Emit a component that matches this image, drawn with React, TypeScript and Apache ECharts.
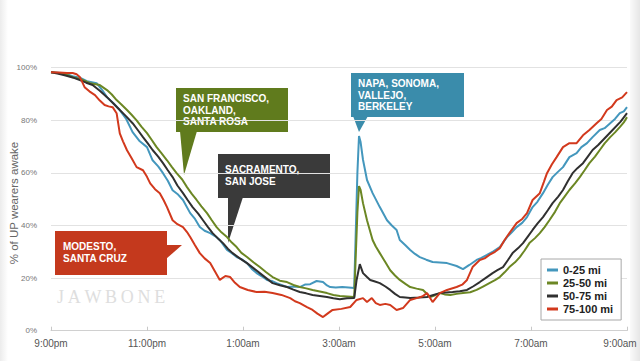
import React, { useEffect, useRef } from "react";
import * as echarts from "echarts";

const xTickLabels = ["9:00pm", "11:00pm", "1:00am", "3:00am", "5:00am", "7:00am", "9:00am"];
const seriesNames = ["0-25 mi", "25-50 mi", "50-75 mi", "75-100 mi"];
const seriesColors = ["#4497bd", "#6c8724", "#303030", "#d2391d"];
const yAxisTitle = "% of UP wearers awake";

// [minutes after 9:00pm, % awake]
const mi0to25: [number, number][] = [
  [0, 98.3], [11, 98], [20, 97.5], [27, 96.8], [36, 96.2], [45, 94.9], [57, 94.1], [64, 91.5], [70, 88.8], [78, 86.5],
  [86, 83.9], [94, 80.5], [102, 75.5], [111, 72], [120, 69.8], [127, 64.8], [134, 62.5], [140, 59.9], [146, 57], [152, 53.4],
  [158, 52], [165, 49.7], [174, 44.7], [180, 42.5], [186, 39.4], [192, 38], [199, 37.1], [205, 36], [211, 34.5], [220, 30.7],
  [226, 29.5], [232, 28], [238, 27.2], [245, 25.7], [251, 23.5], [257, 21.9], [264, 20.6], [270, 19.3], [276, 18.9], [282, 18.1],
  [288, 17.4], [295, 16.6], [303, 16.8], [311, 16.6], [318, 17.6], [324, 17.7], [332, 18.9], [340, 18.5], [345, 17.2], [349, 16.6],
  [356, 16.4], [364, 16.6], [372, 16.4], [379, 16.2], [383, 60], [385, 74], [387, 71.7], [390, 65], [395, 57.3], [402, 52.3],
  [411, 47], [420, 42], [426, 40], [432, 38.3], [436, 34.5], [443, 32.5], [449, 30.7], [455, 29.2], [461, 28], [469, 27],
  [477, 26.1], [486, 25.9], [495, 25.7], [507, 24.6], [515, 23.4], [523, 25], [532, 26.9], [538, 27.7], [545, 28.8], [553, 30.2],
  [561, 31.8], [570, 35.6], [576, 37.4], [582, 39.4], [589, 41], [595, 43.2], [602, 47], [608, 49], [615, 52.3], [621, 55.5],
  [627, 58.4], [633, 60.2], [640, 62.2], [648, 66], [657, 67.5], [663, 69.8], [670, 71.3], [677, 73.6], [686, 76.3], [692, 77],
  [699, 78.9], [705, 80.5], [711, 82.7], [716, 83.4], [720, 85],
];

const mi25to50: [number, number][] = [
  [0, 98.3], [15, 97.8], [27, 96.4], [38, 95.5], [49, 94.1], [61, 93.4], [70, 91.5], [76, 89.8], [82, 87.7], [88, 86],
  [95, 83.9], [101, 82], [107, 80], [113, 77.6], [120, 75.1], [126, 72.5], [132, 69.8], [138, 67.5], [145, 64.8], [151, 62.3],
  [157, 59.9], [164, 57.5], [170, 54.6], [176, 52], [182, 49.7], [188, 47.3], [195, 44.7], [201, 42], [207, 39.4], [213, 37.4],
  [220, 35.6], [226, 33.5], [232, 31.8], [238, 29.6], [245, 28], [253, 26], [261, 24.2], [269, 22.2], [277, 20.4], [286, 19],
  [295, 18.5], [303, 17.4], [311, 16.6], [319, 16.1], [327, 15.5], [336, 14.9], [345, 14.3], [353, 13.6], [361, 13.2], [370, 13],
  [379, 12.8], [383, 45], [385, 55], [387, 53.5], [390, 48.5], [395, 42], [402, 34.5], [406, 32], [411, 29.5], [418, 26],
  [424, 23], [430, 21], [436, 19.3], [443, 17.8], [449, 16.6], [457, 16], [465, 15.5], [474, 12.8], [480, 13.5], [486, 14.3],
  [492, 13.8], [499, 13.6], [507, 14], [515, 14.3], [524, 14.6], [532, 15.5], [540, 16.8], [548, 18.1], [555, 19.2], [561, 20.4],
  [567, 22.2], [573, 24.2], [580, 26], [586, 28], [592, 30.5], [598, 33.3], [605, 35.2], [611, 37.1], [617, 39.4], [623, 42],
  [630, 45.2], [636, 48.5], [642, 51], [648, 53.5], [655, 56], [661, 58.4], [667, 61], [673, 63.7], [680, 66.2], [686, 68.7],
  [692, 71.2], [699, 73.6], [705, 75.4], [711, 77.4], [716, 79.2], [720, 81.2],
];

const mi50to75: [number, number][] = [
  [0, 98.3], [8, 97.8], [17, 97.1], [27, 96.3], [36, 95.3], [44, 94.3], [52, 93.4], [61, 91.2], [70, 88.8], [78, 86.4],
  [86, 83.9], [94, 81.5], [102, 78.9], [108, 76.5], [115, 73.6], [121, 71.2], [127, 68.7], [134, 66.2], [140, 63.7], [146, 61],
  [152, 58.4], [158, 55.2], [165, 52.3], [171, 49.6], [177, 47], [184, 44.5], [190, 42], [196, 39.5], [202, 37.1], [209, 35],
  [215, 33.3], [221, 31.2], [227, 29.5], [236, 27.5], [245, 25.7], [253, 23.8], [261, 21.9], [269, 20], [277, 18.1], [286, 17.3],
  [295, 16.6], [303, 15.6], [311, 14.7], [319, 14.2], [327, 13.6], [336, 13.2], [345, 12.8], [353, 12.3], [361, 12], [370, 12.3],
  [379, 12.4], [382, 19.3], [386, 25.3], [390, 21.9], [395, 20.4], [399, 19.3], [405, 18.7], [411, 18.1], [418, 16.8], [424, 15.5],
  [430, 14], [436, 12.8], [443, 12.6], [449, 12.4], [460, 12.6], [470, 12.8], [478, 13.6], [486, 14.3], [494, 14.5], [502, 14.7],
  [511, 15], [520, 15.5], [528, 16.9], [536, 18.5], [544, 20.2], [552, 21.9], [558, 23], [565, 24.2], [571, 26.8], [577, 29.5],
  [584, 31.4], [590, 33.3], [596, 35.8], [602, 38.3], [608, 40.7], [615, 43.2], [621, 45.8], [627, 48.5], [634, 51], [640, 53.5],
  [646, 56.8], [652, 59.9], [658, 61.8], [665, 63.7], [671, 66.2], [677, 68.7], [684, 70.6], [690, 72.5], [696, 74.4], [702, 76.3],
  [712, 79.5], [720, 82.7],
];

const mi75to100: [number, number][] = [
  [0, 98.3], [10, 98.2], [20, 98], [27, 98], [32, 97.5], [36, 96.5], [42, 92.6], [48, 91], [55, 89.6], [61, 87.5],
  [67, 85.8], [72, 85.3], [77, 85], [82, 82.7], [86, 75], [90, 72], [95, 68.6], [101, 65.5], [107, 62.2], [115, 61],
  [120, 58.5], [124, 56], [130, 53.8], [136, 52.3], [141, 49.5], [145, 47], [152, 42], [158, 40.5], [165, 39.4], [170, 37.5],
  [174, 35.6], [180, 32.5], [186, 29.5], [192, 27.5], [199, 25.7], [205, 22.5], [211, 19.3], [218, 20.8], [224, 20.4], [230, 18.2],
  [236, 16.6], [246, 15.5], [257, 14.7], [267, 14.8], [277, 14.3], [288, 13.6], [299, 12.4], [305, 11.2], [311, 10.5], [320, 9],
  [327, 7.9], [333, 6.5], [340, 5.2], [346, 6.6], [352, 7.9], [363, 8.3], [374, 9], [382, 11.7], [390, 12.4], [395, 10.9],
  [401, 12.4], [406, 10.5], [411, 9.8], [418, 10.2], [424, 9.8], [432, 7.9], [440, 8.6], [449, 11.7], [457, 12.4], [464, 13],
  [470, 14.3], [477, 10.9], [486, 14.3], [495, 15.5], [507, 16.6], [514, 17.5], [520, 19.3], [527, 24.2], [536, 26.9], [542, 27.5],
  [548, 28.8], [555, 30], [561, 31.4], [567, 34.5], [573, 37.1], [582, 40.9], [589, 42.5], [595, 44.7], [602, 49.7], [611, 52.3],
  [616, 56.5], [620, 59.9], [626, 63.2], [632, 66], [640, 69.8], [648, 71.3], [657, 71.3], [665, 74.3], [673, 76.3], [682, 78.9],
  [688, 80.5], [695, 83.9], [701, 85.2], [707, 87.7], [714, 88.7], [720, 90.7],
];

const seriesData = [mi0to25, mi25to50, mi50to75, mi75to100];

const FONT = '"Liberation Sans", Arial, Helvetica, sans-serif';

function callout(
  color: string,
  rect: [number, number, number, number],
  pointer: number[][],
  text: string,
  tx: number,
  ty: number
) {
  return {
    type: "group",
    children: [
      { type: "rect", shape: { x: rect[0], y: rect[1], width: rect[2], height: rect[3] }, style: { fill: color } },
      { type: "polygon", shape: { points: pointer }, style: { fill: color } },
      {
        type: "text",
        x: tx,
        y: ty,
        style: {
          text,
          fill: "#ffffff",
          font: `bold 10px ${FONT}`,
          lineHeight: 11.5,
          verticalAlign: "top",
          align: "left",
        },
      },
    ],
  };
}

function jawbone() {
  const letters = ["J", "A", "W", "B", "O", "N", "E"];
  const widths = [7, 13, 17, 12, 13, 13, 11];
  const gap = 3.7;
  let x = 57;
  const els: any[] = [];
  letters.forEach((ch, i) => {
    els.push({
      type: "text",
      x,
      y: 297,
      style: {
        text: ch,
        fill: "#dedede",
        font: `18px "Liberation Serif", "DejaVu Serif", serif`,
        verticalAlign: "middle",
        align: "left",
      },
    });
    x += widths[i] + gap;
  });
  return els;
}

export default function App() {
  const ref = useRef<HTMLDivElement>(null);

  useEffect(() => {
    if (!ref.current) return;
    const chart = echarts.init(ref.current, undefined, { renderer: "svg" });
    const option: any = {
      animation: false,
      backgroundColor: "#ffffff",
      textStyle: { fontFamily: FONT },
      grid: {
        left: 51,
        right: 13,
        top: 67.7,
        bottom: 30.3,
        containLabel: false,
        outerBoundsMode: "none",
      },
      legend: {
        orient: "vertical",
        left: 541,
        top: 259,
        data: seriesNames,
        icon: "rect",
        itemWidth: 11,
        itemHeight: 3,
        itemGap: 1,
        itemStyle: { borderWidth: 0 },
        padding: [5, 8, 5, 6],
        backgroundColor: "#ffffff",
        borderColor: "#a8a8a8",
        borderWidth: 1,
        textStyle: { fontFamily: FONT, fontSize: 11, fontWeight: "bold", color: "#222", lineHeight: 12 },
      },
      xAxis: {
        type: "value",
        min: 0,
        max: 720,
        interval: 120,
        axisLine: { show: true, lineStyle: { color: "#d0d0d0", width: 1 } },
        axisTick: { show: true, inside: true, length: 4, lineStyle: { color: "#c8c8c8" } },
        splitLine: { show: false },
        axisLabel: {
          color: "#555",
          fontSize: 10,
          fontFamily: FONT,
          margin: 8,
          formatter: (v: number) => {
            const i = Math.round(v / 120);
            return i === xTickLabels.length - 1 ? `{last|${xTickLabels[i]}}` : xTickLabels[i];
          },
          rich: { last: { color: "#555", fontSize: 10, fontFamily: FONT, padding: [0, 14, 0, 0] } },
        },
      },
      yAxis: {
        type: "value",
        min: 0,
        max: 100,
        interval: 20,
        axisLine: { show: false },
        axisTick: { show: false },
        splitLine: { show: true, lineStyle: { color: "#e2e2e2", width: 1 } },
        axisLabel: { color: "#777", fontSize: 8, fontFamily: FONT, margin: 14, formatter: "{value}%" },
      },
      series: seriesNames.map((name, i) => ({
        name,
        type: "line",
        data: seriesData[i],
        symbol: "none",
        smooth: false,
        color: seriesColors[i],
        lineStyle: { width: 2, color: seriesColors[i] },
        z: 2 + i,
      })),
      graphic: [
        {
          type: "rect",
          z: -10,
          shape: { x: 630, y: 0, width: 10, height: 361 },
          style: {
            fill: new echarts.graphic.LinearGradient(0, 0, 1, 0, [
              { offset: 0, color: "#fafafa" },
              { offset: 1, color: "#e6e6e6" },
            ]),
          },
        },
        {
          type: "rect",
          z: -10,
          shape: { x: 0, y: 0, width: 8, height: 361 },
          style: {
            fill: new echarts.graphic.LinearGradient(0, 0, 1, 0, [
              { offset: 0, color: "#ececec" },
              { offset: 1, color: "#ffffff" },
            ]),
          },
        },
        {
          type: "text",
          x: 14,
          y: 203,
          rotation: Math.PI / 2,
          style: {
            text: yAxisTitle,
            fill: "#666",
            font: `11.5px ${FONT}`,
            align: "center",
            verticalAlign: "middle",
          },
        },
        ...jawbone(),
        callout("#607b1d", [176, 88, 112, 44], [[180, 131], [197, 131], [184, 175]], "SAN FRANCISCO,\nOAKLAND,\nSANTA ROSA", 183, 93),
        callout("#3a3a3a", [218, 154, 112, 44], [[228, 197], [243, 197], [228, 243]], "SACRAMENTO,\nSAN JOSE", 225, 164),
        callout("#c4391d", [55, 231, 112, 44], [[166, 245], [182, 245], [166, 259]], "MODESTO,\nSANTA CRUZ", 63, 241),
        callout("#3a8cab", [351, 73, 113, 44], [[353, 116], [368, 116], [359, 132]], "NAPA, SONOMA,\nVALLEJO,\nBERKELEY", 358, 78),
      ],
    };
    chart.setOption(option);
    return () => chart.dispose();
  }, []);

  return (
    <div
      ref={ref}
      style={{ position: "fixed", left: 0, top: 0, width: 640, height: 361 }}
    />
  );
}
